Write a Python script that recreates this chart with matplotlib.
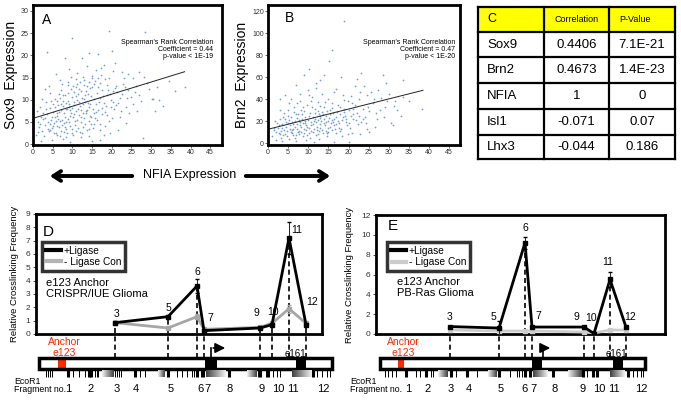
import numpy as np
import matplotlib
matplotlib.use("Agg")
from matplotlib import pyplot as plt
from matplotlib import font_manager
from matplotlib.patches import Rectangle
from matplotlib.lines import Line2D

plt.rcParams['font.family'] = 'Liberation Sans'
names = {f.name for f in font_manager.fontManager.ttflist}
narrow = 'Liberation Sans Narrow' if 'Liberation Sans Narrow' in names else 'Liberation Sans'
narrow_size = 10.5 if narrow == 'Liberation Sans Narrow' else 9

# ---------------- data ----------------
# A: NFIA vs Sox9 expression
sox9_pts = [
    (3.1, 4.2), (3.5, 6.8), (4.0, 2.9), (4.2, 8.1), (4.6, 5.5), (4.9, 3.6), (5.2, 7.2), (5.4, 4.8),
    (5.7, 10.1), (5.9, 2.4), (6.1, 6.3), (6.3, 8.9), (6.6, 3.9), (6.8, 5.1), (7.0, 12.2), (7.2, 7.6),
    (7.4, 4.4), (7.6, 9.7), (7.8, 2.7), (8.0, 6.0), (8.2, 11.0), (8.4, 3.3), (8.6, 7.9), (8.8, 5.6),
    (9.0, 13.4), (9.2, 9.1), (9.4, 4.0), (9.6, 6.9), (9.8, 10.6), (10.0, 8.2), (10.2, 2.1), (10.4, 11.8),
    (10.6, 5.3), (10.8, 7.4), (11.0, 14.7), (11.2, 9.9), (11.4, 3.7), (11.6, 6.6), (11.8, 12.5), (12.0, 8.6),
    (12.2, 4.9), (12.4, 10.4), (12.6, 7.1), (12.8, 15.2), (13.0, 5.8), (13.2, 9.4), (13.4, 12.0), (13.6, 3.1),
    (13.8, 7.8), (14.0, 11.3), (14.2, 14.1), (14.4, 6.4), (14.6, 9.0), (14.8, 4.5), (15.0, 12.8), (15.2, 8.0),
    (15.4, 13.6), (15.6, 10.2), (15.8, 5.9), (16.0, 7.3), (2.2, 3.0), (2.5, 5.6), (2.8, 1.8), (1.0, 7.5),
    (1.5, 3.8), (0.8, 2.0), (1.9, 8.3), (2.6, 7.0), (3.3, 9.4), (3.8, 5.0), (4.4, 11.5), (5.0, 9.0),
    (5.5, 6.0), (6.0, 4.1), (6.5, 11.2), (7.1, 3.0), (7.7, 8.5), (8.3, 4.9), (8.9, 9.8), (9.3, 6.4),
    (9.9, 3.3), (10.3, 9.6), (10.9, 12.9), (11.5, 8.0), (12.1, 6.2), (12.7, 3.9), (13.3, 11.0), (13.9, 9.2),
    (14.5, 12.6), (15.1, 15.4), (16.3, 11.6), (16.7, 9.5), (17.0, 13.8), (17.4, 6.8), (17.8, 10.8), (18.2, 14.6),
    (18.6, 8.7), (19.0, 12.1), (19.4, 5.2), (19.8, 10.0), (20.2, 11.9), (20.6, 7.9), (21.0, 13.2), (21.5, 9.3),
    (22.0, 6.1), (22.5, 11.4), (23.0, 14.9), (23.6, 8.4), (24.2, 12.3), (24.8, 10.7), (25.5, 9.0), (26.2, 13.0),
    (27.0, 11.1), (28.3, 15.1), (29.5, 12.4), (30.4, 10.1), (31.5, 12.8), (18.0, 17.8), (17.3, 17.2), (16.5, 20.4),
    (14.3, 20.6), (12.5, 19.4), (8.1, 19.3), (10.0, 24.0), (19.2, 25.6), (28.4, 25.2), (3.5, 20.8), (20.0, 21.0),
    (24.0, 15.8), (26.5, 7.4), (28.0, 1.3), (31.0, 7.5), (30.2, 10.2), (38.6, 12.8), (17.0, 1.0), (15.0, 0.8),
    (21.5, 3.2), (9.5, 0.4), (5.8, 15.8), (6.9, 14.5), (11.3, 16.0), (13.7, 17.6), (9.1, 17.0), (12.0, 14.0),
    (22.7, 16.2), (25.3, 15.0), (20.8, 18.3), (23.5, 4.7), (19.6, 2.6), (18.4, 4.0), (16.9, 3.2), (14.1, 1.9),
    (12.3, 1.5), (7.5, 1.2), (4.7, 0.9), (2.0, 0.6), (3.0, 12.5), (1.3, 5.0), (6.2, 2.0), (8.7, 2.5),
    (10.7, 4.2), (11.9, 2.8), (13.1, 4.6), (15.3, 3.6), (16.2, 5.5), (17.6, 8.2), (18.9, 6.6), (21.2, 8.8),
    (24.5, 6.9), (27.5, 9.8), (33.0, 8.5), (20.4, 16.4), (15.9, 16.8), (7.3, 13.6), (4.1, 13.0), (2.4, 10.2),
    (9.7, 15.2), (12.9, 13.3), (14.9, 14.8), (16.6, 12.9), (18.7, 11.0), (19.9, 8.4), (22.2, 10.3), (23.3, 12.9),
    (4.3, 3.2), (4.8, 6.2), (5.1, 4.1), (5.6, 8.4), (6.4, 5.7), (6.7, 7.3), (7.3, 5.4), (7.9, 6.9),
    (8.1, 3.9), (8.5, 9.3), (9.1, 5.0), (9.5, 7.7), (10.1, 6.0), (10.5, 8.9), (11.1, 5.4), (11.7, 9.6),
    (12.3, 7.6), (12.9, 10.1), (13.5, 6.9), (14.1, 8.3), (14.7, 10.9), (15.5, 7.0), (16.1, 9.0), (16.9, 10.4),
    (17.5, 12.2), (18.1, 9.3), (18.8, 13.3), (19.5, 11.3), (20.4, 9.6), (21.3, 11.7), (3.7, 3.5), (5.3, 2.6),
    (6.8, 1.9), (8.4, 1.7), (9.8, 2.6), (11.0, 3.0), (12.5, 2.5), (14.3, 3.5), (6.0, 9.8), (7.5, 11.1),
    (9.6, 12.4), (11.1, 13.6), (13.0, 14.5), (15.7, 14.2), (17.2, 15.5), (19.3, 15.0), (10.9, 10.8), (8.3, 8.0),
    (6.2, 7.1), (4.6, 9.7), (3.3, 7.9), (2.1, 6.1), (1.7, 4.6), (1.2, 2.8), (7.0, 9.0), (9.0, 11.5),
    (11.4, 11.2), (13.6, 13.0), (16.4, 14.9), (12.1, 11.9), (10.2, 13.0), (8.8, 14.1), (14.8, 6.1), (16.6, 7.7),
    (18.4, 7.3), (20.9, 12.7), (22.8, 13.6), (25.9, 11.8), (23.9, 10.4), (12.6, 9.1), (13.4, 7.4), (14.3, 5.2),
    (15.6, 4.6), (10.4, 6.7), (9.2, 8.4), (7.8, 4.7), (5.9, 5.2), (4.4, 4.6), (3.0, 5.8), (6.9, 10.5),
    (20.1, 5.9), (22.4, 7.5), (17.1, 4.6), (18.0, 2.0), (26.8, 16.3), (29.0, 13.8), (32.0, 10.0), (34.5, 14.2),
    (36.0, 12.0),
]
sox9_fit = (0.273, 5.8)   # slope, intercept
sox9_fit_end = 38.5

# B: NFIA vs Brn2 expression
brn2_pts = [
    (1.0, 6), (1.5, 12), (2.0, 3), (2.3, 18), (2.7, 9), (3.0, 22), (3.2, 5), (3.6, 14), (3.9, 27), (4.1, 8),
    (4.4, 19), (4.7, 11), (5.0, 30), (5.2, 4), (5.5, 16), (5.8, 24), (6.0, 9), (6.3, 13), (6.5, 33), (6.8, 20),
    (7.0, 7), (7.3, 17), (7.5, 26), (7.8, 11), (8.0, 38), (8.2, 15), (8.5, 22), (8.8, 6), (9.0, 29), (9.3, 18),
    (9.5, 12), (9.8, 35), (10.0, 21), (10.3, 9), (10.5, 27), (10.8, 16), (11.0, 42), (11.3, 24), (11.5, 13),
    (11.8, 31), (12.0, 19), (12.3, 8), (12.5, 37), (12.8, 23), (13.0, 14), (13.3, 28), (13.5, 45), (13.8, 18),
    (14.0, 33), (14.3, 11), (14.5, 25), (14.8, 40), (15.0, 20), (15.3, 15), (15.5, 30), (15.8, 12), (16.0, 36),
    (16.3, 22), (16.8, 17), (17.2, 28), (17.6, 14), (18.0, 33), (18.4, 21), (18.8, 39), (19.2, 25), (19.6, 16),
    (20.0, 30), (20.5, 43), (21.0, 22), (21.5, 35), (22.0, 27), (22.5, 40), (23.0, 19), (23.5, 31), (24.0, 24),
    (24.6, 44), (25.2, 29), (26.0, 36), (27.0, 22), (28.0, 41), (29.0, 33), (30.0, 45), (31.0, 16), (32.0, 30),
    (38.2, 31), (19.0, 111), (16.0, 85), (15.2, 75), (10.3, 67), (23.0, 64), (22.2, 58), (13.0, 57), (28.5, 62),
    (29.2, 55), (33.5, 57), (9.0, 62), (4.2, 44), (3.0, 40), (25.5, 46), (21.5, 52), (17.0, 49), (12.0, 50),
    (7.0, 53), (27.3, 48), (18.2, 60), (14.0, 62), (11.5, 0.5), (20.0, 0.5), (16.5, 1), (25.0, 10), (22.8, 8),
    (26.5, 15), (30.5, 18), (33.0, 25), (35.0, 38), (2.5, 14), (3.3, 11), (3.8, 7), (4.5, 15), (5.3, 21),
    (5.7, 10), (6.2, 17), (6.7, 5), (7.2, 13), (7.7, 21), (8.3, 10), (8.7, 18), (9.2, 24), (9.6, 7), (10.2, 14),
    (10.7, 19), (11.2, 10), (11.7, 22), (12.2, 15), (12.7, 11), (13.2, 20), (13.7, 26), (14.2, 16), (14.7, 9),
    (15.2, 23), (15.7, 18), (16.2, 27), (16.6, 13), (17.4, 20), (17.9, 11), (18.6, 24), (19.4, 19), (20.3, 14),
    (21.2, 26), (22.3, 17), (24.3, 18), (6.4, 28), (8.1, 30), (10.9, 33), (12.9, 34), (4.9, 25), (3.5, 2),
    (6.9, 2), (9.4, 3), (12.6, 4), (14.6, 6), (1.8, 20), (2.9, 30), (5.1, 36), (7.9, 45), (9.9, 48), (11.9, 55),
    (16.4, 46), (19.9, 38), (23.8, 52), (26.8, 27), (28.8, 24), (31.5, 38), (20.8, 9), (18.3, 6),
    (3.0, 8), (3.4, 17), (4.0, 12), (4.3, 22), (4.8, 6), (5.4, 13), (5.9, 19), (6.1, 7), (6.6, 15), (7.1, 23),
    (7.4, 10), (7.9, 16), (8.4, 26), (8.9, 13), (9.1, 20), (9.7, 15), (10.1, 25), (10.6, 11), (11.1, 17),
    (11.6, 27), (12.1, 12), (12.4, 21), (12.9, 17), (13.4, 12), (13.9, 22), (14.4, 19), (14.9, 14), (15.4, 26),
    (15.9, 21), (16.5, 16), (17.0, 24), (17.7, 18), (18.2, 13), (18.9, 28), (19.5, 22), (20.2, 18), (21.0, 31),
    (21.8, 21), (22.7, 25), (23.6, 22), (6.0, 12), (7.6, 8), (9.0, 9), (10.4, 5), (11.9, 7), (13.6, 9),
    (15.0, 10), (16.8, 9), (5.0, 18), (6.9, 26), (8.6, 33), (10.6, 38), (12.4, 29), (14.1, 37), (15.8, 32),
    (17.5, 35), (19.0, 31), (20.6, 25), (2.0, 10), (2.8, 16), (1.4, 14), (3.7, 24), (11.4, 20), (9.5, 16),
    (8.0, 19), (13.0, 25), (17.9, 26), (16.1, 19), (14.6, 29), (12.6, 26), (24.8, 33), (26.3, 40), (27.8, 30),
    (29.6, 38), (20.9, 36), (22.9, 46), (18.6, 44), (7.3, 36), (5.8, 40), (10.1, 44), (31.2, 34), (33.5, 42),
    (24.5, 13), (19.8, 8),
]
brn2_fit = (0.92, 12.5)
brn2_fit_end = 38.5

# C: correlation table
table_head = ['C', 'Correlation', 'P-Value']
table_genes = ['Sox9', 'Brn2', 'NFIA', 'Isl1', 'Lhx3']
table_corr = ['0.4406', '0.4673', '1', '-0.071', '-0.044']
table_pval = ['7.1E-21', '1.4E-23', '0', '0.07', '0.186']

# D / E: 3C crosslinking, x = position along the locus map
frag_names = ['3', '5', '6', '7', '9', '10', '11', '12']
d_pos = [115, 168, 197, 204, 260, 272, 289, 306]
d_lig = [0.85, 1.3, 3.6, 0.25, 0.45, 0.7, 7.2, 0.7]
d_lig_err = [0.1, 0.1, 0.5, 0.05, 0.05, 0.1, 1.2, 0.1]
d_con = [0.85, 0.45, 1.3, 0.35, 0.5, 0.8, 1.9, 0.8]
d_con_err = [0.1, 0.05, 0.2, 0.05, 0.05, 0.1, 0.3, 0.1]

e_pos = [450, 499, 525, 532, 584, 594, 610, 626]
e_lig = [0.75, 0.6, 9.2, 0.7, 0.7, 0.05, 5.5, 0.7]
e_lig_err = [0.05, 0.7, 0.6, 0.05, 0.05, 0.05, 0.8, 0.05]
e_con = [0.4, 0.3, 0.3, 0.3, 0.2, 0.1, 0.4, 0.4]
e_con_err = [0.05, 0.05, 0.05, 0.05, 0.05, 0.05, 0.05, 0.05]

# locus maps (EcoR1 sites)
d_bar = (39, 332)
d_anchor = (58, 66)
d_blocks = [(205, 217), (296, 306)]
d_tss = (211, 228)
d_e161 = 295.5
d_sites_thin = [45.7, 48, 50, 52, 72.7, 79, 85, 95, 96.7, 98.3, 115, 117.3, 119.3, 121, 140, 145, 176.7,
                181.7, 186.7, 191.7, 194, 200.7, 258.3, 266, 272.7, 276.7, 280, 317.3, 321.7, 326.7, 330]
d_sites_thick = [68, 89.3, 91, 135, 168, 196.7, 202.7, 229.3, 260, 268.3, 313.3]
d_grads = [(101.7, 113.3, 1), (158, 165, 1), (206, 226, -1), (246.7, 256.7, 1), (292, 312, -1)]
d_num_x = [68, 91, 117, 136, 171, 200, 207, 230, 262, 278, 293, 323]

e_bar = (380, 645)
e_anchor = (398, 404)
e_blocks = [(532, 542), (613, 623)]
e_tss = (543, 553)
e_e161 = 616.5
e_sites_thin = [385, 388.3, 391.7, 395.7, 415.7, 420, 431, 433.3, 456, 476.7, 510, 516.7, 519, 521.7,
                586.7, 633.3, 636.7, 641, 643.3]
e_sites_thick = [406, 426, 451, 466.7, 499.3, 525, 530, 553.3, 583.3, 593.3, 596.7, 628.3]
e_grads = [(438, 448, 1), (488, 497, 1), (533, 548, -1), (568, 582, 1), (610, 625, -1)]
e_num_x = [408, 428, 451, 469, 501, 524, 533, 555, 583, 599, 614, 641]
num_labels = ['1', '2', '3', '4', '5', '6', '7', '8', '9', '10', '11', '12']

# ---------------- figure ----------------
W, H = 681, 400
fig = plt.figure(figsize=(W / 100, H / 100), dpi=100)

bg = fig.add_axes([0, 0, 1, 1])
bg.set_xlim(0, W)
bg.set_ylim(H, 0)
bg.axis('off')


def px_axes(x0, y0, x1, y1):
    return fig.add_axes([x0 / W, 1 - y1 / H, (x1 - x0) / W, (y1 - y0) / H])


def scatter_panel(rect, pts, fit, fit_end, xlim, ylim, yticks, ylabel, letter, lx, ly, stats, sx):
    ax = px_axes(*rect)
    p = np.array(pts)
    ax.scatter(p[:, 0], p[:, 1], s=1.6, color='#5f8dd0', linewidths=0, alpha=0.85)
    xs = np.array([0, fit_end])
    ax.plot(xs, fit[0] * xs + fit[1], color='#222222', lw=0.7)
    ax.set_xlim(*xlim)
    ax.set_ylim(*ylim)
    ax.set_xticks(range(0, 50, 5))
    ax.set_yticks(yticks)
    ax.tick_params(labelsize=5, colors='#333333', length=2, width=0.5, pad=1)
    for s in ax.spines.values():
        s.set_linewidth(2)
    ax.set_ylabel(ylabel, fontsize=10, labelpad=2)
    ax.text(lx, ly, letter, transform=ax.transAxes, fontsize=10, va='center')
    for i, line in enumerate(stats):
        ax.text(sx, 0.731 - i * 0.05, line, transform=ax.transAxes, fontsize=5, ha='right', va='center')
    return ax


scatter_panel((33, 5, 222, 145), sox9_pts, sox9_fit, sox9_fit_end, (0, 48), (-0.2, 31.35), range(0, 35, 5),
              'Sox9  Expression', 'A', 0.046, 0.893,
              ["Spearman's Rank Correlation", 'Coefficient = 0.44', 'p-value < 1E-19'], 0.952)
scatter_panel((268, 5, 460, 145), brn2_pts, brn2_fit, brn2_fit_end, (0, 47.7), (-1.8, 125.5), range(0, 140, 20),
              'Brn2  Expression', 'B', 0.089, 0.907,
              ["Spearman's Rank Correlation", 'Coefficient = 0.47', 'p-value < 1E-20'], 0.974)

# table C
row_y = [7, 32, 57, 83, 109, 135, 159]
col_x = [478, 544, 609, 675]
bg.add_patch(Rectangle((col_x[0], row_y[0]), col_x[-1] - col_x[0], row_y[1] - row_y[0],
                       fc='#ffff00', ec='none'))
for y in row_y:
    bg.plot([col_x[0], col_x[-1]], [y, y], color='k', lw=1.6)
for x in col_x:
    bg.plot([x, x], [row_y[0], row_y[-1]], color='k', lw=1.6)
hy = (row_y[0] + row_y[1]) / 2
bg.text(487, hy, table_head[0], fontsize=9, va='center')
bg.text((col_x[1] + col_x[2]) / 2, hy, table_head[1], fontsize=6.5, ha='center', va='center')
bg.text(619, hy, table_head[2], fontsize=6.5, va='center')
for i in range(len(table_genes)):
    cy = (row_y[i + 1] + row_y[i + 2]) / 2
    bg.text(487, cy, table_genes[i], fontsize=9.5, va='center')
    bg.text((col_x[1] + col_x[2]) / 2, cy, table_corr[i], fontsize=9.5, ha='center', va='center')
    bg.text((col_x[2] + col_x[3]) / 2, cy, table_pval[i], fontsize=9.5, ha='center', va='center')

# NFIA expression arrows
bg.annotate('', xy=(47, 176), xytext=(135, 176),
            arrowprops=dict(arrowstyle='->,head_length=0.55,head_width=0.35', lw=2.8, color='k'))
bg.annotate('', xy=(333, 176), xytext=(243, 176),
            arrowprops=dict(arrowstyle='->,head_length=0.55,head_width=0.35', lw=2.8, color='k'))
bg.text(190, 175, 'NFIA Expression', fontsize=narrow_size, family=narrow, ha='center', va='center')

MAP_TOP, MAP_BOT = 358, 369


def crosslink_panel(rect, pos, lig, lig_err, con, con_err, ymax, ystep, con_color, leg_color,
                    letter, lpos, caption, cpos, leg_anchor, offsets):
    ax = px_axes(*rect)
    ax.errorbar(pos, con, yerr=con_err, color=con_color, lw=2, marker='s', ms=2.5,
                capsize=1.5, elinewidth=0.6, zorder=3)
    ax.errorbar(pos, lig, yerr=lig_err, color='k', lw=2, marker='s', ms=2.5,
                capsize=1.5, elinewidth=0.6, zorder=4)
    top = np.maximum(lig, con)
    ylo = -(MAP_TOP - rect[3]) / (rect[3] - rect[1]) * ymax
    ax.vlines(pos, ylo, top, colors='k', linestyles=(0, (3, 2)), lw=1.2, clip_on=False, zorder=2)
    for name, x, y, (dx, dy) in zip(frag_names, pos, lig, offsets):
        ax.annotate(name, (x, y), xytext=(dx * 0.72, dy * 0.72), textcoords='offset points',
                    fontsize=7.5, ha='center', va='center')
    ax.set_xlim(rect[0], rect[2])
    ax.set_ylim(0, ymax)
    ax.set_xticks([])
    ax.set_yticks(range(0, ymax + 1, ystep))
    ax.tick_params(labelsize=6, colors='#333333', length=2, width=0.6, pad=2)
    for s in ax.spines.values():
        s.set_linewidth(2)
    ax.set_ylabel('Relative Crosslinking Frequency', fontsize=6.8, labelpad=5)
    ax.text(lpos[0], lpos[1], letter, transform=ax.transAxes, fontsize=11, va='center')
    ax.text(cpos[0], cpos[1], caption, transform=ax.transAxes, fontsize=8, va='top', linespacing=1.15)
    handles = [Line2D([], [], color='k', lw=3), Line2D([], [], color=leg_color, lw=3)]
    leg = ax.legend(handles, ['+Ligase', '- Ligase Con'], loc='upper left', bbox_to_anchor=leg_anchor,
                    fontsize=7.3, frameon=True, fancybox=False, edgecolor='k', handlelength=1.5,
                    handletextpad=0.3, borderpad=0.35, labelspacing=0.15, borderaxespad=0)
    leg.get_frame().set_linewidth(2.5)
    return ax


d_offsets = [(2, 9), (0, 9), (0, 14), (6, 13), (-4, 15), (1, 13), (8, 8), (6, 23)]
e_offsets = [(0, 10), (-6, 11), (0, 15), (6, 11), (-8, 10), (-3, 16), (-2, 17), (4, 10)]

crosslink_panel((36, 214, 322, 334), d_pos, d_lig, d_lig_err, d_con, d_con_err, 9, 1, '#a6a6a6', '#b4b4b4',
                'D', (0.024, 0.85), 'e123 Anchor\nCRISPR/IUE Glioma', (0.035, 0.47), (0.021, 0.767), d_offsets)
crosslink_panel((376, 215, 665, 334), e_pos, e_lig, e_lig_err, e_con, e_con_err, 12, 2, '#cccccc', '#cccccc',
                'E', (0.042, 0.908), 'e123 Anchor\nPB-Ras Glioma', (0.073, 0.48), (0.038, 0.773), e_offsets)

grad = np.linspace(0.25, 0.95, 64)[None, :]


def draw_map(bar, anchor, blocks, tss, e161_x, thin, thick, grads, num_x, left_x):
    bg.add_patch(Rectangle((bar[0], MAP_TOP), bar[1] - bar[0], MAP_BOT - MAP_TOP, fc='white', ec='none'))
    for b0, b1 in blocks:
        bg.add_patch(Rectangle((b0, MAP_TOP), b1 - b0, MAP_BOT - MAP_TOP, fc='k', ec='none'))
    bg.add_patch(Rectangle((anchor[0], MAP_TOP + 1), anchor[1] - anchor[0], MAP_BOT - MAP_TOP - 2,
                           fc='#ff2a00', ec='none'))
    bg.add_patch(Rectangle((bar[0], MAP_TOP), bar[1] - bar[0], MAP_BOT - MAP_TOP, fc='none', ec='k', lw=2.5))
    # TSS arrow
    bg.plot([tss[0], tss[0]], [MAP_TOP, MAP_TOP - 10], color='k', lw=1.2)
    bg.annotate('', xy=(tss[1], MAP_TOP - 10), xytext=(tss[0] - 0.6, MAP_TOP - 10),
                arrowprops=dict(arrowstyle='-|>,head_length=0.6,head_width=0.3', lw=1.2, color='k'))
    mid = (anchor[0] + anchor[1]) / 2 + 2
    bg.text(mid, 342, 'Anchor', color='#ff2a00', fontsize=7.5, ha='center', va='center')
    bg.text(mid, 353, 'e123', color='#ff2a00', fontsize=7.5, ha='center', va='center')
    bg.text(e161_x, 354, 'e161', fontsize=7, ha='center', va='center')
    # EcoR1 sites
    for g0, g1, direction in grads:
        img = grad[:, ::-1] if direction > 0 else grad
        bg.imshow(img, cmap='gray', vmin=0, vmax=1, aspect='auto',
                  extent=(g0, g1, 377, 370), interpolation='bilinear', zorder=1)
    bg.vlines(thin, 370, 377, colors='k', lw=0.7)
    bg.vlines(thick, 370, 377, colors='k', lw=2.2)
    bg.text(left_x, 382, 'EcoR1', fontsize=6.3, va='center')
    bg.text(left_x, 390, 'Fragment no.', fontsize=6.3, va='center')
    for x, lab in zip(num_x, num_labels):
        bg.text(x, 389, lab, fontsize=8, ha='center', va='center')


draw_map(d_bar, d_anchor, d_blocks, d_tss, d_e161, d_sites_thin, d_sites_thick, d_grads, d_num_x, 14)
draw_map(e_bar, e_anchor, e_blocks, e_tss, e_e161, e_sites_thin, e_sites_thick, e_grads, e_num_x, 350)
bg.set_xlim(0, W)
bg.set_ylim(H, 0)

fig.savefig('out.png', dpi=100)
